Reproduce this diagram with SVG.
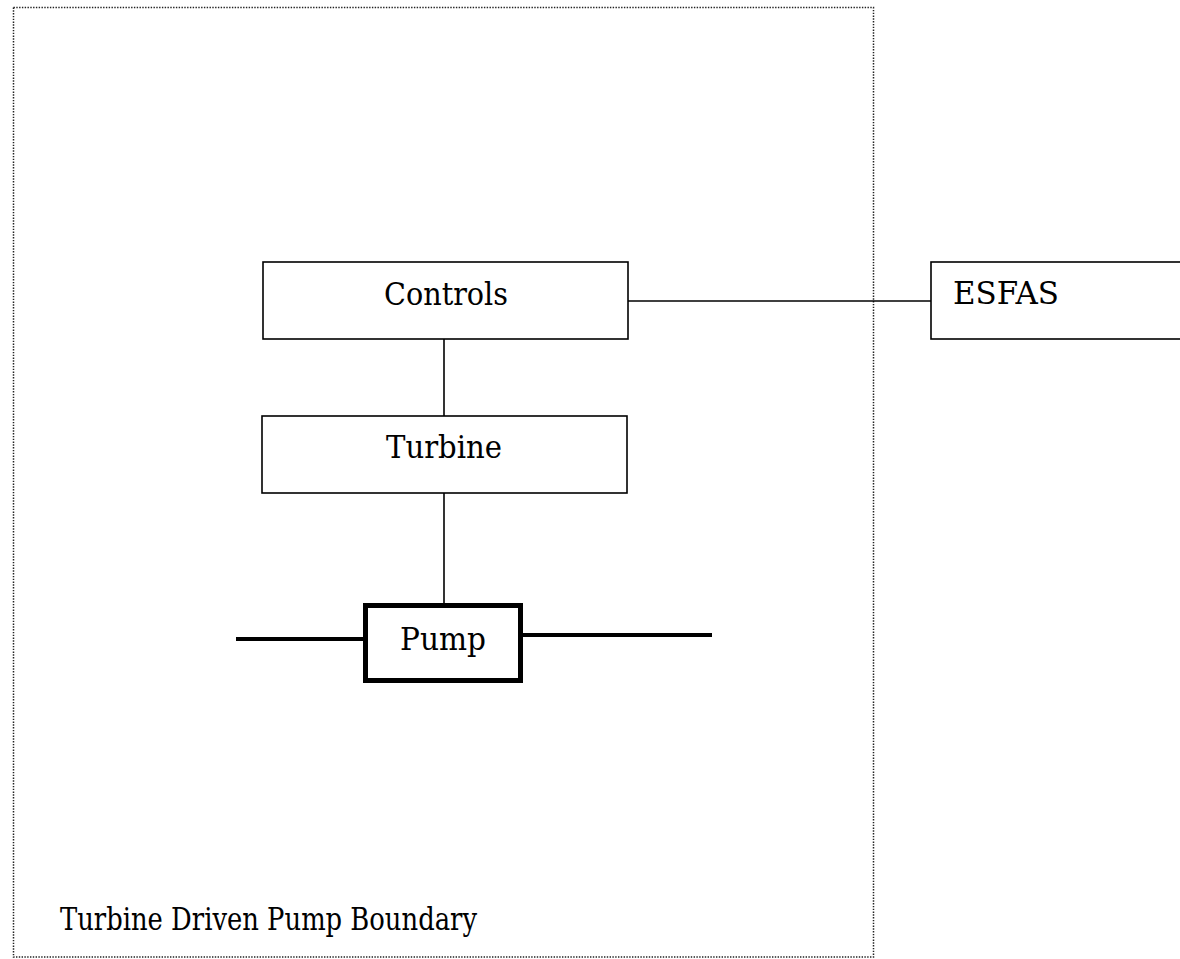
<svg xmlns="http://www.w3.org/2000/svg" width="1180" height="959" viewBox="0 0 1180 959">
<style>
.box{fill:#fff;stroke:#000;stroke-width:1.6}
.thick{fill:#fff;stroke:#000;stroke-width:5}
.ln{stroke:#000;stroke-width:1.6;fill:none}
.pipe{stroke:#000;stroke-width:4;fill:none}
.bnd{fill:none;stroke:#222;stroke-width:1.5;stroke-dasharray:1.4 1.4}
text{font-family:"DejaVu Serif","Liberation Serif",serif;font-size:31px;fill:#000}
</style>
<rect width="1180" height="959" fill="#fff"/>
<g id="boundary">
<rect class="bnd" x="13.5" y="7.5" width="860" height="949.5"/>
<text x="60" y="930" textLength="417" lengthAdjust="spacingAndGlyphs">Turbine Driven Pump Boundary</text>
</g>
<g id="connectors">
<line class="ln" x1="628" y1="301" x2="931" y2="301"/>
<line class="ln" x1="444" y1="339" x2="444" y2="416"/>
<line class="ln" x1="444" y1="493" x2="444" y2="603"/>
<line class="pipe" x1="236" y1="639" x2="363" y2="639"/>
<line class="pipe" x1="523" y1="635" x2="712" y2="635"/>
</g>
<g id="controls">
<rect class="box" x="263" y="262" width="365" height="77"/>
<text x="384" y="305" textLength="124" lengthAdjust="spacingAndGlyphs">Controls</text>
</g>
<g id="turbine">
<rect class="box" x="262" y="416" width="365" height="77"/>
<text x="386" y="458" textLength="116" lengthAdjust="spacingAndGlyphs">Turbine</text>
</g>
<g id="esfas">
<rect class="box" x="931" y="262" width="260" height="77"/>
<text x="953" y="304" textLength="106" lengthAdjust="spacingAndGlyphs">ESFAS</text>
</g>
<g id="pump">
<rect class="thick" x="365.5" y="605.5" width="155" height="75"/>
<text x="400" y="650" textLength="86" lengthAdjust="spacingAndGlyphs">Pump</text>
</g>
</svg>
